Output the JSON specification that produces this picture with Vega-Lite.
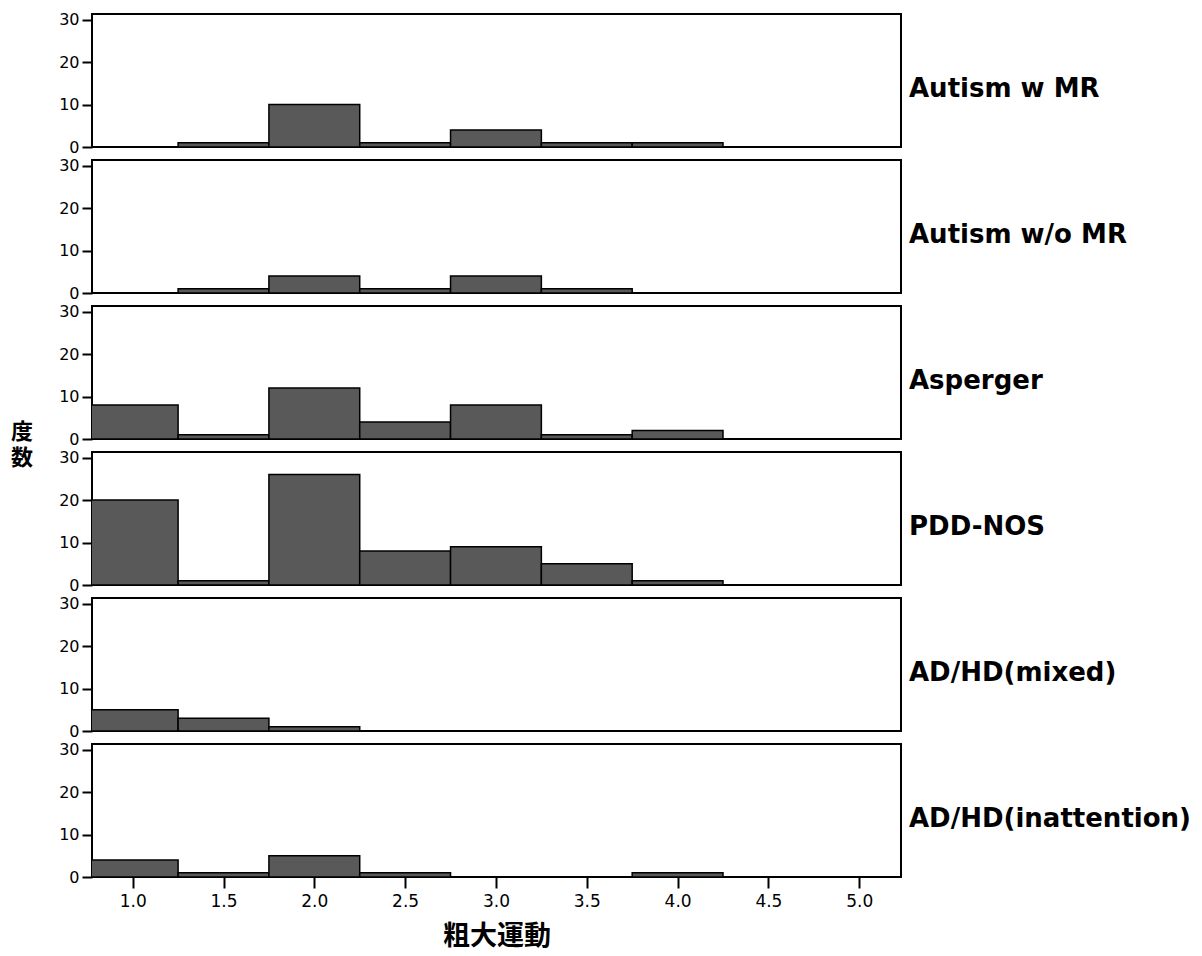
{
  "$schema": "https://vega.github.io/schema/vega-lite/v6.json",
  "padding": {"left": 10, "top": 11, "right": 0, "bottom": 0},
  "background": "white",
  "bounds": "flush",
  "data": {
    "values": [
      {"group": "Autism w MR", "lo": 1.25, "hi": 1.75, "count": 1},
      {"group": "Autism w MR", "lo": 1.75, "hi": 2.25, "count": 10},
      {"group": "Autism w MR", "lo": 2.25, "hi": 2.75, "count": 1},
      {"group": "Autism w MR", "lo": 2.75, "hi": 3.25, "count": 4},
      {"group": "Autism w MR", "lo": 3.25, "hi": 3.75, "count": 1},
      {"group": "Autism w MR", "lo": 3.75, "hi": 4.25, "count": 1},

      {"group": "Autism w/o MR", "lo": 1.25, "hi": 1.75, "count": 1},
      {"group": "Autism w/o MR", "lo": 1.75, "hi": 2.25, "count": 4},
      {"group": "Autism w/o MR", "lo": 2.25, "hi": 2.75, "count": 1},
      {"group": "Autism w/o MR", "lo": 2.75, "hi": 3.25, "count": 4},
      {"group": "Autism w/o MR", "lo": 3.25, "hi": 3.75, "count": 1},
      {"group": "Autism w/o MR", "lo": 3.75, "hi": 4.25, "count": 0},

      {"group": "Asperger", "lo": 0.75, "hi": 1.25, "count": 8},
      {"group": "Asperger", "lo": 1.25, "hi": 1.75, "count": 1},
      {"group": "Asperger", "lo": 1.75, "hi": 2.25, "count": 12},
      {"group": "Asperger", "lo": 2.25, "hi": 2.75, "count": 4},
      {"group": "Asperger", "lo": 2.75, "hi": 3.25, "count": 8},
      {"group": "Asperger", "lo": 3.25, "hi": 3.75, "count": 1},
      {"group": "Asperger", "lo": 3.75, "hi": 4.25, "count": 2},

      {"group": "PDD-NOS", "lo": 0.75, "hi": 1.25, "count": 20},
      {"group": "PDD-NOS", "lo": 1.25, "hi": 1.75, "count": 1},
      {"group": "PDD-NOS", "lo": 1.75, "hi": 2.25, "count": 26},
      {"group": "PDD-NOS", "lo": 2.25, "hi": 2.75, "count": 8},
      {"group": "PDD-NOS", "lo": 2.75, "hi": 3.25, "count": 9},
      {"group": "PDD-NOS", "lo": 3.25, "hi": 3.75, "count": 5},
      {"group": "PDD-NOS", "lo": 3.75, "hi": 4.25, "count": 1},

      {"group": "AD/HD(mixed)", "lo": 0.75, "hi": 1.25, "count": 5},
      {"group": "AD/HD(mixed)", "lo": 1.25, "hi": 1.75, "count": 3},
      {"group": "AD/HD(mixed)", "lo": 1.75, "hi": 2.25, "count": 1},
      {"group": "AD/HD(mixed)", "lo": 2.25, "hi": 2.75, "count": 0},

      {"group": "AD/HD(inattention)", "lo": 0.75, "hi": 1.25, "count": 4},
      {"group": "AD/HD(inattention)", "lo": 1.25, "hi": 1.75, "count": 1},
      {"group": "AD/HD(inattention)", "lo": 1.75, "hi": 2.25, "count": 5},
      {"group": "AD/HD(inattention)", "lo": 2.25, "hi": 2.75, "count": 1},
      {"group": "AD/HD(inattention)", "lo": 2.75, "hi": 3.25, "count": 0},
      {"group": "AD/HD(inattention)", "lo": 3.25, "hi": 3.75, "count": 0},
      {"group": "AD/HD(inattention)", "lo": 3.75, "hi": 4.25, "count": 1},
      {"group": "AD/HD(inattention)", "lo": 4.25, "hi": 4.75, "count": 0}
    ]
  },
  "facet": {
    "row": {
      "field": "group",
      "type": "nominal",
      "sort": ["Autism w MR", "Autism w/o MR", "Asperger", "PDD-NOS", "AD/HD(mixed)", "AD/HD(inattention)"],
      "title": ["度", "数"],
      "header": {
        "titleOrient": "left",
        "titleAngle": 0,
        "titleFont": "Noto Sans CJK JP",
        "titleFontWeight": "bold",
        "titleFontSize": 22,
        "titleLineHeight": 26,
        "titleColor": "black",
        "titleAlign": "center",
        "titleBaseline": "line-bottom",
        "titlePadding": 4,
        "labelOrient": "right",
        "labelAngle": 0,
        "labelAlign": "right",
        "labelBaseline": "line-top",
        "labelLineHeight": 16,
        "labelFont": "DejaVu Sans",
        "labelFontWeight": "bold",
        "labelFontSize": 26,
        "labelColor": "black",
        "labelPadding": 8
      }
    }
  },
  "spacing": 13,
  "spec": {
    "width": 809,
    "height": 133,
    "mark": {"type": "rect", "clip": true, "fill": "#595959", "stroke": "black", "strokeWidth": 1.5},
    "encoding": {
      "x": {
        "field": "lo",
        "type": "quantitative",
        "scale": {"domain": [0.776, 5.23], "nice": false, "zero": false},
        "axis": {
          "title": "粗大運動",
          "values": [1, 1.5, 2, 2.5, 3, 3.5, 4, 4.5, 5],
          "format": ".1f",
          "grid": false,
          "domain": false,
          "tickSize": 11,
          "tickWidth": 2,
          "tickColor": "black",
          "labelFont": "DejaVu Sans",
          "labelFontSize": 17,
          "labelColor": "black",
          "labelPadding": 5,
          "titleFont": "Noto Sans CJK JP",
          "titleFontWeight": "bold",
          "titleFontSize": 27,
          "titleColor": "black",
          "titlePadding": 14
        }
      },
      "x2": {"field": "hi"},
      "y": {
        "field": "count",
        "type": "quantitative",
        "scale": {"domain": [0, 31.3], "nice": false},
        "axis": {
          "title": null,
          "values": [0, 10, 20, 30],
          "grid": false,
          "domain": false,
          "tickSize": 10,
          "tickWidth": 2,
          "tickColor": "black",
          "labelFont": "DejaVu Sans",
          "labelFontSize": 16,
          "labelColor": "black",
          "labelPadding": 3
        }
      },
      "y2": {"datum": 0}
    }
  },
  "config": {
    "view": {"stroke": "black", "strokeWidth": 2}
  }
}
